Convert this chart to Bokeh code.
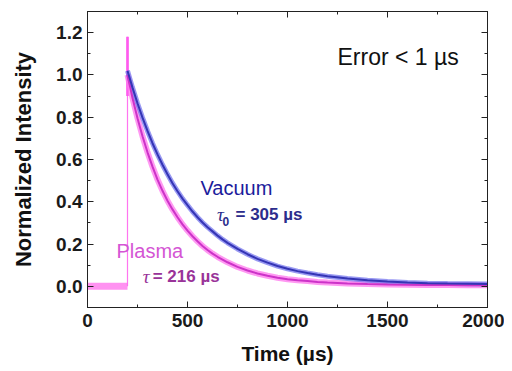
from bokeh.plotting import figure
from bokeh.models import (LinearAxis, SingleIntervalTicker, NumeralTickFormatter, Range1d, Label,
                          CustomJSTickFormatter)
from bokeh.embed import file_html
from bokeh.resources import INLINE

# ---- data ----
vac_t = [200, 225, 250, 275, 300, 325, 350, 375, 400, 425, 450, 475, 500, 525, 550, 575,
         600, 625, 650, 675, 700, 750, 800, 850, 900, 950, 1000, 1050, 1100, 1150, 1200,
         1300, 1400, 1500, 1600, 1700, 1800, 1900, 2000]
vac_y = [1.02, 0.94, 0.866, 0.798, 0.735, 0.677, 0.624, 0.575, 0.53, 0.488, 0.45, 0.415, 0.384,
         0.354, 0.327, 0.302, 0.28, 0.26, 0.24, 0.222, 0.206, 0.177, 0.152, 0.13, 0.112, 0.096,
         0.083, 0.072, 0.063, 0.055, 0.048, 0.037, 0.029, 0.023, 0.018, 0.015, 0.013, 0.012, 0.011]

pla_t = [200, 225, 250, 275, 300, 325, 350, 375, 400, 425, 450, 475, 500, 525, 550, 575,
         600, 625, 650, 675, 700, 750, 800, 850, 900, 950, 1000, 1050, 1100, 1150, 1200,
         1300, 1400, 1500, 1600, 1700, 1800, 1900, 2000]
pla_y = [1.0, 0.891, 0.795, 0.71, 0.634, 0.566, 0.505, 0.452, 0.405, 0.364, 0.327, 0.293, 0.264,
         0.237, 0.213, 0.191, 0.172, 0.155, 0.14, 0.127, 0.114, 0.092, 0.075, 0.061, 0.05, 0.041,
         0.034, 0.029, 0.025, 0.021, 0.018, 0.014, 0.011, 0.009, 0.008, 0.007, 0.006, 0.005, 0.005]

pla_base_t = [0, 200]
pla_base_y = [0.0, 0.0]
pla_spike_t = [200, 200]
pla_spike_y = [0.0, 1.18]
pla_peak_t = [200, 200]
pla_peak_y = [1.18, 0.9]

x_ticks_interval = 500
y_ticks_interval = 0.2

FONT = "Liberation Sans"

p = figure(width=504, height=370, output_backend="svg", toolbar_location=None,
           x_range=Range1d(0, 2000), y_range=Range1d(-0.1, 1.3),
           x_axis_type=None, y_axis_type=None,
           min_border_left=87, min_border_right=17, min_border_top=11, min_border_bottom=63)
p.xgrid.visible = False
p.ygrid.visible = False
p.outline_line_color = "#222222"
p.outline_line_width = 1
p.background_fill_color = "white"
p.border_fill_color = "white"

def style_axis(ax, labels=True):
    ax.major_tick_in = 6
    ax.major_tick_out = 0
    ax.minor_tick_in = 3
    ax.minor_tick_out = 0
    ax.axis_line_color = "#222222"
    ax.major_tick_line_color = "#222222"
    ax.minor_tick_line_color = "#222222"
    if labels:
        ax.major_label_text_font = FONT
        ax.major_label_text_font_style = "bold"
        ax.major_label_text_font_size = "19px"
        ax.major_label_text_color = "#1a1a1a"
        ax.axis_label_text_font = FONT
        ax.axis_label_text_font_style = "bold"
        ax.axis_label_text_font_size = "21px"
        ax.axis_label_text_color = "#111111"
    else:
        ax.formatter = CustomJSTickFormatter(code="return ''")
        ax.major_label_standoff = 0

xt = SingleIntervalTicker(interval=x_ticks_interval, num_minor_ticks=2)
yt = SingleIntervalTicker(interval=y_ticks_interval, num_minor_ticks=2)

xb = LinearAxis(ticker=xt, axis_label="Time (µs)")
style_axis(xb)
xb.major_label_standoff = 6
xb.axis_label_standoff = 12
p.add_layout(xb, "below")

yl = LinearAxis(ticker=yt, axis_label="Normalized Intensity",
                formatter=NumeralTickFormatter(format="0.0"))
style_axis(yl)
yl.axis_label_text_font_size = "22px"
yl.major_label_standoff = 5
yl.axis_label_standoff = 17
p.add_layout(yl, "left")

xa = LinearAxis(ticker=SingleIntervalTicker(interval=x_ticks_interval, num_minor_ticks=2))
style_axis(xa, labels=False)
p.add_layout(xa, "above")

yr = LinearAxis(ticker=SingleIntervalTicker(interval=y_ticks_interval, num_minor_ticks=2))
style_axis(yr, labels=False)
p.add_layout(yr, "right")

# raw (noisy) data rendered as light thick bands
p.line(pla_base_t, pla_base_y, line_color="#ff77ee", line_width=7, line_alpha=0.8)
p.line(pla_spike_t, pla_spike_y, line_color="#ff66ee", line_width=1.2, line_alpha=0.9)
p.line(pla_peak_t, pla_peak_y, line_color="#ff55ee", line_width=3, line_alpha=0.8)
p.line(pla_t, pla_y, line_color="#ff77ee", line_width=6, line_alpha=0.75)
p.line(vac_t, vac_y, line_color="#7777ee", line_width=5, line_alpha=0.75)
# fits
p.line(pla_t, pla_y, line_color="#cc33c8", line_width=2)
p.line(vac_t, vac_y, line_color="#3535b5", line_width=2)

def lab(x, y, text, color, size, style="normal", font=FONT, baseline="alphabetic"):
    p.add_layout(Label(x=x, y=y, text=text, text_color=color, text_font=font,
                       text_font_size=size, text_font_style=style, text_baseline=baseline))

lab(1250, 1.085, "Error < 1 µs", "#111111", "23px")
lab(565, 0.465, "Vacuum", "#1c1c9c", "20px")
lab(648, 0.34, "τ", "#2c2c8c", "19px", "italic", "Liberation Serif")
lab(675, 0.305, "0", "#2c2c8c", "12px", "bold")
lab(740, 0.34, "= 305 µs", "#2c2c8c", "17px", "bold")
lab(145, 0.167, "Plasma", "#d455d4", "20px")
lab(276, 0.047, "τ", "#993399", "19px", "italic", "Liberation Serif")
lab(326, 0.047, "= 216 µs", "#993399", "17px", "bold")

open("out.html", "w").write(file_html(p, INLINE))
